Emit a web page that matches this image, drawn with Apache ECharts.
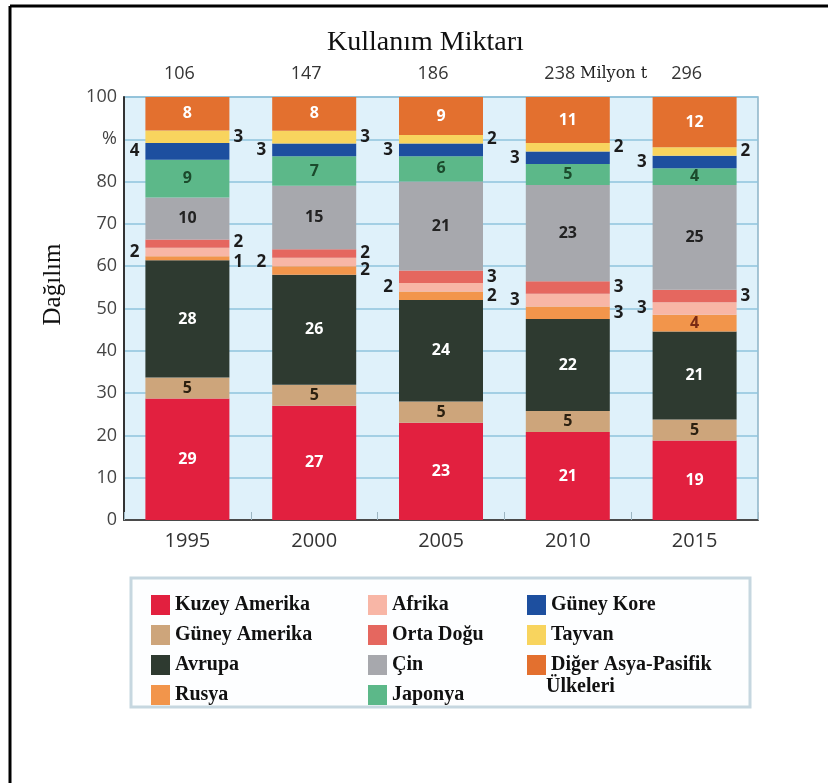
<!DOCTYPE html>
<html>
<head>
<meta charset="utf-8">
<script src="https://cdn.jsdelivr.net/npm/echarts@6/dist/echarts.min.js"></script>
<style>
  html, body { margin: 0; padding: 0; background: #fff; }
  #chart { width: 828px; height: 783px; }
</style>
</head>
<body>
<div id="chart"></div>
<script>
// yıllar ve toplam kullanım (milyon t)
var years = ["1995", "2000", "2005", "2010", "2015"];
var totals = [106, 147, 186, 238, 296];
var yTicks = [0, 10, 20, 30, 40, 50, 60, 70, 80, "%", 100];

// bölgelere göre dağılım (%), alttan üste
var kuzeyAmerika = [29, 27, 23, 21, 19];
var guneyAmerika = [5, 5, 5, 5, 5];
var avrupa = [28, 26, 24, 22, 21];
var rusya = [1, 2, 2, 3, 4];
var afrika = [2, 2, 2, 3, 3];
var ortaDogu = [2, 2, 3, 3, 3];
var cin = [10, 15, 21, 23, 25];
var japonya = [9, 7, 6, 5, 4];
var guneyKore = [4, 3, 3, 3, 3];
var tayvan = [3, 3, 2, 2, 2];
var diger = [8, 8, 9, 11, 12];

var groups = [kuzeyAmerika, guneyAmerika, avrupa, rusya, afrika, ortaDogu, cin, japonya, guneyKore, tayvan, diger];
// yuvarlamadan dolayı toplam 101 olabilir, çubuk 100'e ölçeklenir
var sums = years.map(function (y, i) {
  return groups.reduce(function (s, g) { return s + g[i]; }, 0);
});

var chart = echarts.init(document.getElementById("chart"));

var sansFont = "Open Sans";
var serifFont = "Liberation Serif";

function labelInside(color) {
  return { show: true, position: "inside", color: color, fontSize: 16, fontWeight: "bold", fontFamily: sansFont };
}
function labelSide(side) {
  return { show: true, position: side, distance: side == "left" ? 6 : 4, color: "#1c1c1c", fontSize: 17, fontWeight: "bold", fontFamily: sansFont };
}

function makeSeries(name, values, color, label, itemLabels) {
  return {
    name: name,
    type: "bar",
    stack: "toplam",
    barWidth: 84,
    itemStyle: { color: color },
    label: Object.assign({ formatter: function (p) { return values[p.dataIndex]; } }, label),
    data: values.map(function (v, i) {
      var item = { value: v * 100 / sums[i] };
      if (itemLabels && itemLabels[i]) item.label = itemLabels[i];
      return item;
    }),
  };
}

var option = {
  backgroundColor: "#fff",
  animation: false,
  title: {
    text: "Kullanım Miktarı",
    left: 322,
    top: 24,
    textStyle: { fontFamily: serifFont, fontSize: 28, fontWeight: "normal", color: "#111" },
  },
  grid: {
    left: 124,
    right: 70,
    top: 97,
    bottom: 263,
    show: true,
    backgroundColor: "#dff1fa",
    borderColor: "#8db4c7",
    borderWidth: 1.5,
  },
  legend: [
    {
      orient: "vertical", left: 146, top: 590, itemWidth: 19, itemHeight: 20, itemGap: 10,
      selectedMode: false, icon: "rect",
      textStyle: { fontFamily: serifFont, fontWeight: "bold", fontSize: 20, color: "#111" },
      data: ["Kuzey Amerika", "Güney Amerika", "Avrupa", "Rusya"],
    },
    {
      orient: "vertical", left: 363, top: 590, itemWidth: 19, itemHeight: 20, itemGap: 10,
      selectedMode: false, icon: "rect",
      textStyle: { fontFamily: serifFont, fontWeight: "bold", fontSize: 20, color: "#111" },
      data: ["Afrika", "Orta Doğu", "Çin", "Japonya"],
    },
    {
      orient: "vertical", left: 522, top: 590, itemWidth: 19, itemHeight: 20, itemGap: 10,
      selectedMode: false, icon: "rect",
      textStyle: { fontFamily: serifFont, fontWeight: "bold", fontSize: 20, color: "#111" },
      formatter: function (name) {
        return name == "Diğer Asya-Pasifik Ülkeleri" ? "Diğer Asya-Pasifik" : name;
      },
      data: ["Güney Kore", "Tayvan", "Diğer Asya-Pasifik Ülkeleri"],
    },
  ],
  xAxis: [
    {
      type: "category",
      data: years,
      axisLine: { lineStyle: { color: "#4a4a4a", width: 2 } },
      axisTick: { show: true, inside: true, length: 8, lineStyle: { color: "#9db6c2" } },
      axisLabel: { fontFamily: sansFont, fontSize: 20, color: "#333", margin: 11 },
    },
    {
      type: "category",
      position: "top",
      data: totals,
      axisLine: { show: false },
      axisTick: { show: false },
      axisLabel: { fontFamily: sansFont, fontSize: 18, color: "#333", margin: 14, padding: [0, 16, 0, 0] },
    },
  ],
  yAxis: {
    type: "value",
    min: 0,
    max: 100,
    interval: 10,
    name: "Dağılım",
    nameLocation: "middle",
    nameGap: 58,
    nameTextStyle: { fontFamily: serifFont, fontSize: 25, color: "#111", padding: [0, 0, 0, 48] },
    axisLine: { show: true, lineStyle: { color: "#333", width: 2 } },
    axisTick: { show: false },
    axisLabel: {
      fontFamily: sansFont, fontSize: 18, color: "#444", margin: 7,
      formatter: function (v) { return yTicks[v / 10]; },
    },
    splitLine: { lineStyle: { color: "#8fc3dc", width: 1.5 } },
  },
  graphic: [
    { type: "line", shape: { x1: 10, y1: 6, x2: 10, y2: 783 }, style: { stroke: "#000", lineWidth: 3 } },
    { type: "line", shape: { x1: 10, y1: 6, x2: 828, y2: 6 }, style: { stroke: "#000", lineWidth: 3 } },
    {
      type: "rect", z: -1, shape: { x: 131, y: 578, width: 619, height: 129 },
      style: { fill: "#fdfeff", stroke: "#c6d7e0", lineWidth: 3 },
    },
    {
      type: "text", left: 546, top: 677,
      style: { text: "Ülkeleri", font: "bold 20px 'Liberation Serif'", fill: "#111" },
    },
    {
      type: "text", left: 580, top: 66,
      style: { text: "Milyon t", font: "16px 'DejaVu Serif'", fill: "#222" },
    },
  ],
  series: [
    makeSeries("Kuzey Amerika", kuzeyAmerika, "#e2203f", labelInside("#fff")),
    makeSeries("Güney Amerika", guneyAmerika, "#cda57b", labelInside("#2b2010")),
    makeSeries("Avrupa", avrupa, "#2e3a30", labelInside("#fff")),
    makeSeries("Rusya", rusya, "#f2954b", labelSide("right"), [
      { offset: [0, 4] }, null, null, null,
      { position: "inside", color: "#7a2a14", fontSize: 16 },
    ]),
    makeSeries("Afrika", afrika, "#f8b6a6", labelSide("left")),
    makeSeries("Orta Doğu", ortaDogu, "#e5675f", labelSide("right"), [{ offset: [0, -1] }]),
    makeSeries("Çin", cin, "#a7a8ad", labelInside("#222")),
    makeSeries("Japonya", japonya, "#5cb889", labelInside("#1b4a2c")),
    makeSeries("Güney Kore", guneyKore, "#1d4f9f", labelSide("left")),
    makeSeries("Tayvan", tayvan, "#f8d45e", labelSide("right")),
    makeSeries("Diğer Asya-Pasifik Ülkeleri", diger, "#e3702f", labelInside("#fff")),
  ],
};

chart.setOption(option);
window.onresize = function () {
  chart.resize();
};
</script>
</body>
</html>
